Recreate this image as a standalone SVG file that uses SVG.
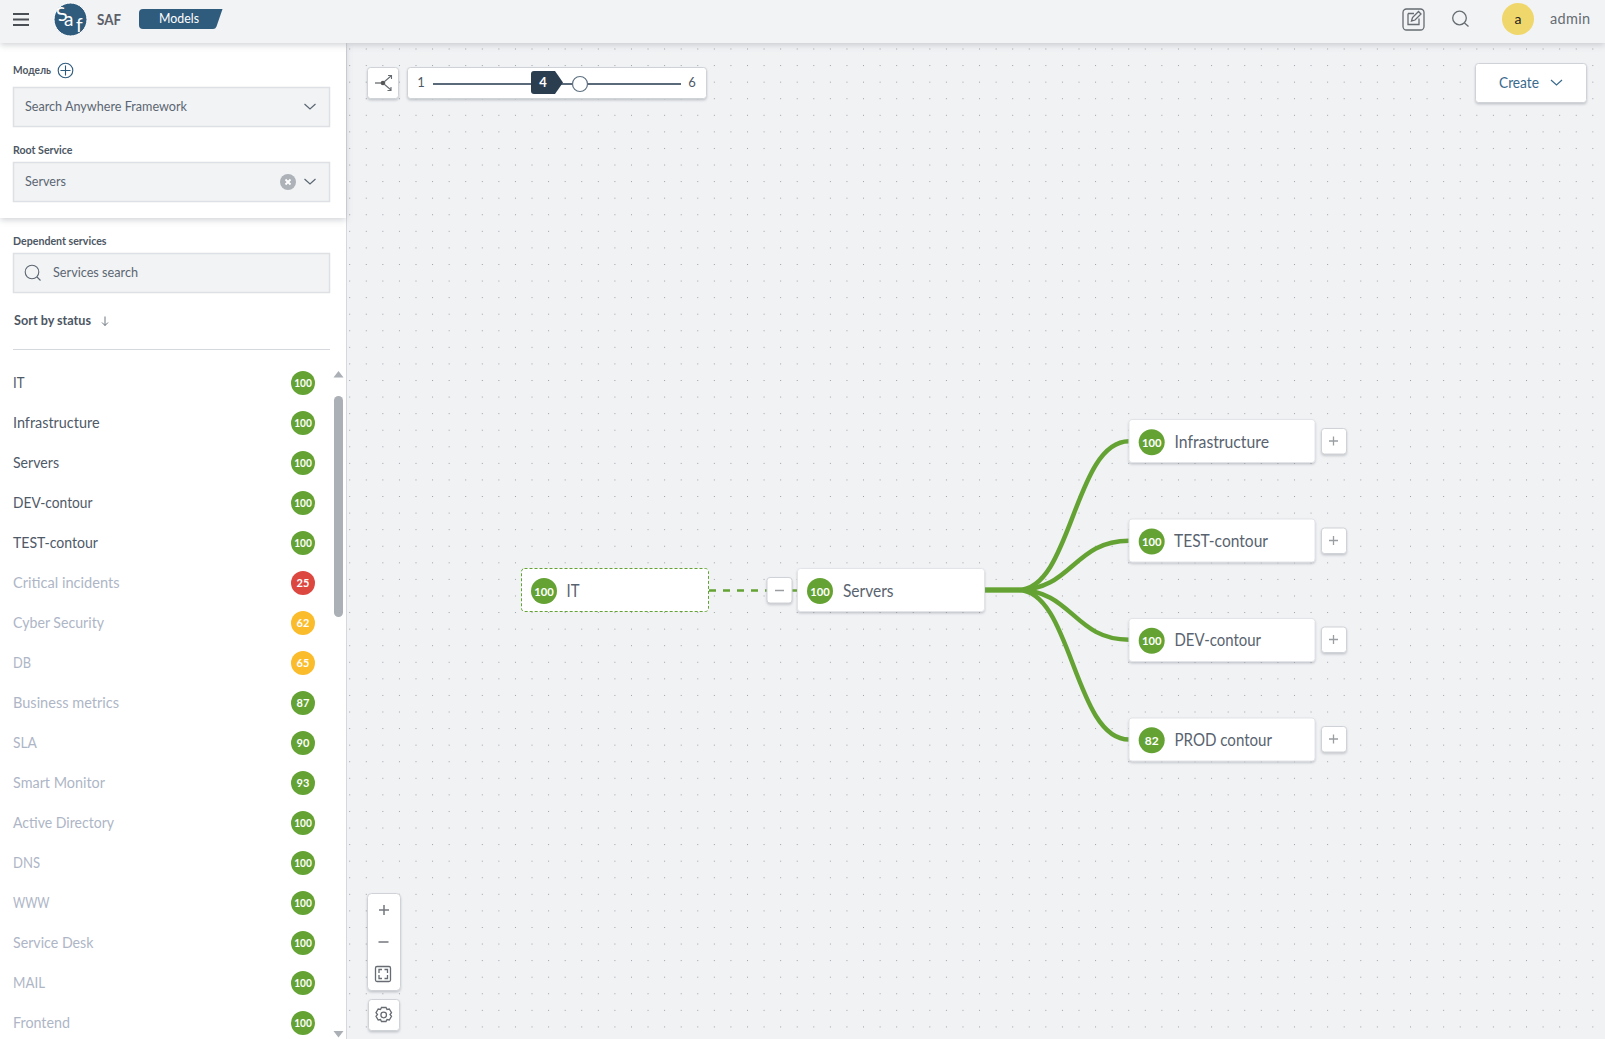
<svg xmlns="http://www.w3.org/2000/svg" width="1605" height="1039" viewBox="0 0 1605 1039">
<style>
text{font-family:"Lato","Noto Sans","Liberation Sans",sans-serif}
.lbl{font-size:11.5px;font-weight:700;fill:#4d5763}
.val{font-size:13.5px;fill:#5b6672}
.item{font-size:15.5px;fill:#4f5a68}
.mut{font-size:15.5px;fill:#aeb6c6}
.bg{font-size:11px;font-weight:700;fill:#fff;text-anchor:middle}
.bn{font-size:12px;font-weight:700;fill:#fff;text-anchor:middle}
.nt{font-size:17px;fill:#59636f}
.node{fill:#fff;stroke:#e2e4e8;stroke-width:1;filter:url(#sh)}
.box{fill:#fff;stroke:#cfd2d6;stroke-width:1;filter:url(#sh)}
.field{fill:#f2f3f5;stroke:#dde0e4;stroke-width:1.5}
.chev{fill:none;stroke:#5b6672;stroke-width:1.2}
.ic{fill:none;stroke:#666c72;stroke-width:1.3}
.ok{fill:#64a333}
.warn{fill:#fbbc2c}
.bad{fill:#dc4840}
.edge{fill:none;stroke:#64a333;stroke-width:4.5}
</style>
<defs>
<pattern id="dots" patternUnits="userSpaceOnUse" x="349.2" y="48.5" width="16.575" height="16.575"><rect width="1" height="1" fill="#9aa0a6"/></pattern>
<filter id="sh" x="-20%" y="-20%" width="140%" height="150%"><feDropShadow dx="0" dy="1.5" stdDeviation="1.2" flood-color="#8a9099" flood-opacity=".45"/></filter>
<filter id="hs" x="-5%" y="-20%" width="110%" height="150%"><feDropShadow dx="0" dy="2" stdDeviation="3" flood-color="#8a9099" flood-opacity=".4"/></filter>
</defs>
<rect width="1605" height="1039" fill="#f1f2f4"/>
<rect x="347" y="43" width="1258" height="996" fill="url(#dots)"/>

<g id="sidebar">
<rect x="0" y="43" width="346" height="996" fill="#fff"/>
<line x1="346.5" y1="43" x2="346.5" y2="1039" stroke="#d5d8dc"/>
<rect x="0" y="43" width="346" height="175" fill="#fff" filter="url(#hs)"/>
<text class="lbl" x="13" y="73.500" textLength="38" lengthAdjust="spacingAndGlyphs">Модель</text>
<circle cx="65.500" cy="70.500" r="7.300" fill="none" stroke="#2f5b7c" stroke-width="1.100"/>
<path d="M65.500 65.500v10M60.500 70.500h10" fill="none" stroke="#2f5b7c" stroke-width="1.100"/>
<rect class="field" x="13.500" y="87.500" width="316" height="39"/>
<text class="val" x="25" y="111" textLength="162" lengthAdjust="spacingAndGlyphs">Search Anywhere Framework</text>
<path class="chev" d="M304.500 104l5.500 5 5.500-5"/>
<text class="lbl" x="13" y="154" textLength="59.500" lengthAdjust="spacingAndGlyphs">Root Service</text>
<rect class="field" x="13.500" y="162.500" width="316" height="39"/>
<text class="val" x="25" y="186" textLength="41" lengthAdjust="spacingAndGlyphs">Servers</text>
<circle cx="288" cy="182" r="8" fill="#adb2b8"/>
<path d="M285.500 179.500l5 5M290.500 179.500l-5 5" stroke="#fff" stroke-width="1.800"/>
<path class="chev" d="M304.500 179l5.500 5 5.500-5"/>
<text class="lbl" x="13" y="244.500" textLength="93.500" lengthAdjust="spacingAndGlyphs">Dependent services</text>
<rect class="field" x="13.500" y="253.500" width="316" height="39"/>
<circle cx="32" cy="272" r="6.800" fill="none" stroke="#5b6672" stroke-width="1.100"/>
<path d="M37 277l3.500 3.500" stroke="#5b6672" stroke-width="1.100"/>
<text class="val" x="53" y="277" textLength="85" lengthAdjust="spacingAndGlyphs">Services search</text>
<text class="lbl" x="14" y="325" style="font-size:12.500px" textLength="77" lengthAdjust="spacingAndGlyphs">Sort by status</text>
<path d="M105 316.500v9M102 322.500l3 3 3-3" fill="none" stroke="#5b6672" stroke-width=".9"/>
<line x1="13" y1="349.500" x2="330" y2="349.500" stroke="#d5d8dc"/>
<path d="M338.500 371l5 6.500h-10z" fill="#aab0b6"/>
<rect x="334" y="396" width="9" height="221" rx="4.500" fill="#aab0b6"/>
<path d="M338.500 1037.500l-5-6.500h10z" fill="#aab0b6"/>
</g>

<g id="service-list">
<g id="row-it"><text class="item" x="13" y="387.500" textLength="11.500" lengthAdjust="spacingAndGlyphs">IT</text><circle class="ok" cx="303" cy="383" r="12"/><text class="bg" x="303" y="387" textLength="17.500" lengthAdjust="spacingAndGlyphs">100</text></g>
<g id="row-infrastructure"><text class="item" x="13" y="427.500" textLength="86.500" lengthAdjust="spacingAndGlyphs">Infrastructure</text><circle class="ok" cx="303" cy="423" r="12"/><text class="bg" x="303" y="427" textLength="17.500" lengthAdjust="spacingAndGlyphs">100</text></g>
<g id="row-servers"><text class="item" x="13" y="467.500" textLength="46" lengthAdjust="spacingAndGlyphs">Servers</text><circle class="ok" cx="303" cy="463" r="12"/><text class="bg" x="303" y="467" textLength="17.500" lengthAdjust="spacingAndGlyphs">100</text></g>
<g id="row-dev"><text class="item" x="13" y="507.500" textLength="79.500" lengthAdjust="spacingAndGlyphs">DEV-contour</text><circle class="ok" cx="303" cy="503" r="12"/><text class="bg" x="303" y="507" textLength="17.500" lengthAdjust="spacingAndGlyphs">100</text></g>
<g id="row-test"><text class="item" x="13" y="547.500" textLength="85" lengthAdjust="spacingAndGlyphs">TEST-contour</text><circle class="ok" cx="303" cy="543" r="12"/><text class="bg" x="303" y="547" textLength="17.500" lengthAdjust="spacingAndGlyphs">100</text></g>
<g id="row-critical"><text class="mut" x="13" y="587.500" textLength="106.500" lengthAdjust="spacingAndGlyphs">Critical incidents</text><circle class="bad" cx="303" cy="583" r="12"/><text class="bg" x="303" y="587">25</text></g>
<g id="row-cyber"><text class="mut" x="13" y="627.500" textLength="91" lengthAdjust="spacingAndGlyphs">Cyber Security</text><circle class="warn" cx="303" cy="623" r="12"/><text class="bg" x="303" y="627">62</text></g>
<g id="row-db"><text class="mut" x="13" y="667.500" textLength="18" lengthAdjust="spacingAndGlyphs">DB</text><circle class="warn" cx="303" cy="663" r="12"/><text class="bg" x="303" y="667">65</text></g>
<g id="row-business"><text class="mut" x="13" y="707.500" textLength="106" lengthAdjust="spacingAndGlyphs">Business metrics</text><circle class="ok" cx="303" cy="703" r="12"/><text class="bg" x="303" y="707">87</text></g>
<g id="row-sla"><text class="mut" x="13" y="747.500" textLength="24" lengthAdjust="spacingAndGlyphs">SLA</text><circle class="ok" cx="303" cy="743" r="12"/><text class="bg" x="303" y="747">90</text></g>
<g id="row-smart"><text class="mut" x="13" y="787.500" textLength="92" lengthAdjust="spacingAndGlyphs">Smart Monitor</text><circle class="ok" cx="303" cy="783" r="12"/><text class="bg" x="303" y="787">93</text></g>
<g id="row-ad"><text class="mut" x="13" y="827.500" textLength="101" lengthAdjust="spacingAndGlyphs">Active Directory</text><circle class="ok" cx="303" cy="823" r="12"/><text class="bg" x="303" y="827" textLength="17.500" lengthAdjust="spacingAndGlyphs">100</text></g>
<g id="row-dns"><text class="mut" x="13" y="867.500" textLength="27" lengthAdjust="spacingAndGlyphs">DNS</text><circle class="ok" cx="303" cy="863" r="12"/><text class="bg" x="303" y="867" textLength="17.500" lengthAdjust="spacingAndGlyphs">100</text></g>
<g id="row-www"><text class="mut" x="13" y="907.500" textLength="36.500" lengthAdjust="spacingAndGlyphs">WWW</text><circle class="ok" cx="303" cy="903" r="12"/><text class="bg" x="303" y="907" textLength="17.500" lengthAdjust="spacingAndGlyphs">100</text></g>
<g id="row-desk"><text class="mut" x="13" y="947.500" textLength="80.500" lengthAdjust="spacingAndGlyphs">Service Desk</text><circle class="ok" cx="303" cy="943" r="12"/><text class="bg" x="303" y="947" textLength="17.500" lengthAdjust="spacingAndGlyphs">100</text></g>
<g id="row-mail"><text class="mut" x="13" y="987.500" textLength="32" lengthAdjust="spacingAndGlyphs">MAIL</text><circle class="ok" cx="303" cy="983" r="12"/><text class="bg" x="303" y="987" textLength="17.500" lengthAdjust="spacingAndGlyphs">100</text></g>
<g id="row-frontend"><text class="mut" x="13" y="1027.500" textLength="57" lengthAdjust="spacingAndGlyphs">Frontend</text><circle class="ok" cx="303" cy="1023" r="12"/><text class="bg" x="303" y="1027" textLength="17.500" lengthAdjust="spacingAndGlyphs">100</text></g>
</g>

<g id="header">
<rect x="0" y="0" width="1605" height="43" fill="#f2f3f5" filter="url(#hs)"/>
<path d="M13 14h16M13 19.500h16M13 25h16" stroke="#4a4f55" stroke-width="2"/>
<circle cx="70.500" cy="19.500" r="16.500" fill="#2f5b7c" stroke="#fff" stroke-width="1"/>
<text x="57" y="21" transform="rotate(-15 62 16)" style="font-size:19px;fill:#fff">S</text><text x="64" y="26" style="font-size:19px;fill:#fff">a</text><text x="76" y="32" style="font-size:19px;fill:#fff">f</text>
<text x="97" y="25" style="font-size:15px;font-weight:700;fill:#5b6068" textLength="24" lengthAdjust="spacingAndGlyphs">SAF</text>
<path d="M143 9H222.500L216.500 26.500Q215.500 29 213 29H143Q139 29 139 25V13Q139 9 143 9z" fill="#2f5b7c"/>
<text x="159" y="23" style="font-size:13px;fill:#fff" textLength="40" lengthAdjust="spacingAndGlyphs">Models</text>
<rect x="1403" y="9" width="21" height="21" rx="3.500" class="ic"/>
<path class="ic" d="M1408 13.500h6M1408 13.500v11h11v-6M1411.500 21l1-3.500 6-6 2.500 2.500-6 6z"/>
<circle cx="1459.500" cy="18" r="6.800" class="ic"/><path class="ic" d="M1464.500 23l4 3.500"/>
<circle cx="1518" cy="19" r="16" fill="#f0d76c"/>
<text x="1518" y="24" style="font-size:14px;fill:#222;text-anchor:middle">a</text>
<text x="1550" y="24" style="font-size:14.500px;fill:#666c72" textLength="40" lengthAdjust="spacing">admin</text>
</g>

<g id="connectors">
<path d="M709 590.500H767" fill="none" stroke="#64a333" stroke-width="2.500" stroke-dasharray="7 7"/>
<path d="M792 590.500H797" fill="none" stroke="#64a333" stroke-width="2.500"/>
<path class="edge" d="M984 590H1018C1072 590 1074 441.300 1129 441.300"/>
<path class="edge" d="M984 590H1018C1072 590 1074 540.700 1129 540.700"/>
<path class="edge" d="M984 590H1018C1072 590 1074 639.700 1129 639.700"/>
<path class="edge" d="M984 590H1018C1072 590 1074 739.500 1129 739.500"/>
</g>

<g id="toolbar">
<rect class="box" x="367.500" y="67.500" width="31" height="31" rx="3"/>
<path d="M375 83h7" stroke="#666c72" stroke-width="1.300"/><circle cx="383" cy="83" r="2.300" fill="#555"/>
<path d="M384 82l7-6M388 75.500h3.500v3.500M384 84l7 6M391 87v3.500h-3.500" fill="none" stroke="#666c72" stroke-width="1.100"/>
<rect class="box" x="407.500" y="67.500" width="299" height="31" rx="3"/>
<text x="421" y="87" style="font-size:13px;fill:#4f5a68;text-anchor:middle">1</text>
<line x1="433" y1="84" x2="681" y2="84" stroke="#5a6a7a" stroke-width="2"/>
<path d="M534 71H555L563 82.500 555 94H534Q531 94 531 91V74Q531 71 534 71z" fill="#2b3e50"/>
<text x="543" y="87" style="font-size:13px;font-weight:700;fill:#fff;text-anchor:middle">4</text>
<circle cx="580" cy="84" r="7.500" fill="#fff" stroke="#5f7080" stroke-width="1.200"/>
<text x="692" y="87" style="font-size:13px;fill:#4f5a68;text-anchor:middle">6</text>
</g>

<g id="create-button">
<rect class="box" x="1475.500" y="63.500" width="111" height="39" rx="3"/>
<text x="1499" y="88" style="font-size:15.500px;fill:#3a6a8e" textLength="40" lengthAdjust="spacingAndGlyphs">Create</text>
<path d="M1551 80l5.500 5 5.500-5" fill="none" stroke="#3a6a8e" stroke-width="1.200"/>
</g>

<g id="node-it">
<rect x="521.500" y="568.500" width="187" height="43" rx="3" fill="#fff" stroke="#64a333" stroke-dasharray="3 2"/>
<circle class="ok" cx="544" cy="591" r="13"/><text class="bn" x="544" y="595.500" textLength="19.500" lengthAdjust="spacingAndGlyphs">100</text>
<text class="nt" x="566.500" y="597" textLength="13" lengthAdjust="spacingAndGlyphs">IT</text>
</g>
<g id="collapse-button">
<rect class="box" x="767" y="577.500" width="25" height="25.500" rx="3"/>
<path d="M775 590.500h9" stroke="#9a9ea3" stroke-width="1.500"/>
</g>
<g id="node-servers">
<rect class="node" x="797.500" y="568.500" width="187" height="43" rx="3"/>
<circle class="ok" cx="820" cy="591" r="13"/><text class="bn" x="820" y="595.500" textLength="19.500" lengthAdjust="spacingAndGlyphs">100</text>
<text class="nt" x="843" y="597" textLength="50.500" lengthAdjust="spacingAndGlyphs">Servers</text>
</g>
<g id="node-infrastructure">
<rect class="node" x="1129" y="419.500" width="186" height="43" rx="3"/>
<circle class="ok" cx="1151.700" cy="442.300" r="13"/><text class="bn" x="1151.700" y="446.800" textLength="19.500" lengthAdjust="spacingAndGlyphs">100</text>
<text class="nt" x="1174.500" y="448" textLength="94.500" lengthAdjust="spacingAndGlyphs">Infrastructure</text>
<rect class="box" x="1321.500" y="428.500" width="25" height="25.500" rx="3"/>
<path d="M1329 441h9M1333.500 436.500v9" stroke="#9a9ea3" stroke-width="1.300"/>
</g>
<g id="node-test">
<rect class="node" x="1129" y="519" width="186" height="43" rx="3"/>
<circle class="ok" cx="1151.700" cy="541.500" r="13"/><text class="bn" x="1151.700" y="546" textLength="19.500" lengthAdjust="spacingAndGlyphs">100</text>
<text class="nt" x="1174" y="547" textLength="94" lengthAdjust="spacingAndGlyphs">TEST-contour</text>
<rect class="box" x="1321.500" y="528" width="25" height="25.500" rx="3"/>
<path d="M1329 540.500h9M1333.500 536v9" stroke="#9a9ea3" stroke-width="1.300"/>
</g>
<g id="node-dev">
<rect class="node" x="1129" y="618.500" width="186" height="43" rx="3"/>
<circle class="ok" cx="1151.700" cy="640.700" r="13"/><text class="bn" x="1151.700" y="645.200" textLength="19.500" lengthAdjust="spacingAndGlyphs">100</text>
<text class="nt" x="1174.500" y="646" textLength="86.500" lengthAdjust="spacingAndGlyphs">DEV-contour</text>
<rect class="box" x="1321.500" y="627" width="25" height="25.500" rx="3"/>
<path d="M1329 639.500h9M1333.500 635v9" stroke="#9a9ea3" stroke-width="1.300"/>
</g>
<g id="node-prod">
<rect class="node" x="1129" y="718" width="186" height="43" rx="3"/>
<circle class="ok" cx="1151.700" cy="740.300" r="13"/><text class="bn" x="1151.700" y="744.800">82</text>
<text class="nt" x="1174.500" y="746" textLength="97.500" lengthAdjust="spacingAndGlyphs">PROD contour</text>
<rect class="box" x="1321.500" y="726.500" width="25" height="25.500" rx="3"/>
<path d="M1329 739h9M1333.500 734.500v9" stroke="#9a9ea3" stroke-width="1.300"/>
</g>

<g id="zoom-controls">
<rect class="box" x="367.500" y="893.500" width="33" height="97" rx="4"/>
<path d="M379 910h10M384 905v10M378.500 942h10" stroke="#73787e" stroke-width="1.500"/>
<rect x="375.500" y="966.500" width="15" height="15" rx="1.500" class="ic"/>
<path class="ic" d="M379 973v-3.500h3M384.500 969.500h3v3.500M387.500 975v3.500h-3M382 978.500h-3v-3.500" stroke-width="1.100"/>
<rect class="box" x="368.500" y="999.500" width="31" height="31" rx="3"/>
<circle cx="383.700" cy="1015" r="2.800" class="ic"/>
<path class="ic" d="M381.500 1007.500h4.500l1 2 2.300-.5 2.200 3.700-1.500 1.800 1.500 1.800-2.200 3.700-2.300-.5-1 2h-4.500l-1-2-2.300.5-2.200-3.700 1.500-1.800-1.500-1.800 2.200-3.700 2.300.5z"/>
</g>
</svg>
